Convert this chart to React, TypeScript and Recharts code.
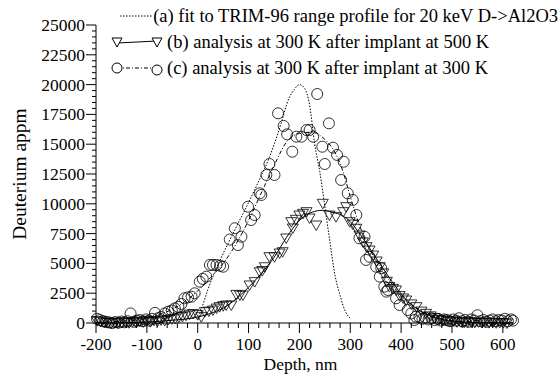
import React from 'react';
import { ComposedChart, Line, Scatter, XAxis, YAxis, Legend, Label } from 'recharts';

const FONT = '"Liberation Serif", "Times New Roman", Times, serif';

// (a) TRIM-96 range profile fit: [depth nm, appm]
const trimFit: [number, number][] = [
  [0, 300], [10, 1500], [20, 2800], [30, 3900], [40, 4900], [60, 6700], [80, 8400],
  [100, 10100], [120, 11900], [140, 13800], [160, 16200], [180, 18900], [190, 19600],
  [200, 20000], [210, 19700], [220, 18300], [230, 15000], [240, 12700], [250, 9800],
  [260, 6800], [270, 4000], [280, 2300], [290, 1000], [300, 400],
];

// (b) implant at 500 K, fit line
const fit500: [number, number][] = [
  [-200, 0], [-150, 20], [-100, 80], [-50, 230], [0, 500], [25, 800], [50, 1250],
  [75, 2000], [100, 3000], [125, 4150], [150, 5500], [175, 7200], [200, 8600],
  [225, 9300], [245, 9450], [265, 9300], [285, 9000], [300, 8500], [320, 7400],
  [350, 5500], [380, 3600], [410, 1950], [440, 950], [470, 400], [500, 150],
  [550, 40], [620, 0],
];

// (b) implant at 500 K, measured points
const points500: [number, number][] = [
  [-198, 200], [-191, 120], [-184, 60], [-177, 30], [-170, 0], [-163, 50], [-156, 0],
  [-149, 40], [-142, 90], [-135, 20], [-128, 130], [-121, 60], [-114, 160], [-107, 100],
  [-100, 200], [-93, 120], [-86, 220], [-79, 160], [-72, 260], [-65, 220], [-58, 300],
  [-51, 350], [-44, 400], [-37, 500], [-30, 550], [-23, 650], [-16, 750], [-9, 800],
  [0, 700], [7, 530], [14, 950], [22, 1000], [30, 1090], [37, 1250], [43, 1370],
  [50, 1450], [56, 1510], [66, 1510], [76, 2400], [83, 2350], [89, 2350], [102, 3190],
  [112, 3470], [122, 4300], [127, 4400], [132, 4720], [141, 5560], [151, 5560],
  [161, 5870], [167, 5980], [174, 7130], [184, 8500], [187, 7970], [193, 8700],
  [200, 9060], [207, 9200], [214, 9340], [220, 8810], [233, 8220], [246, 10040],
  [259, 9060], [272, 8920], [286, 9340], [292, 9760], [299, 8500], [305, 8300],
  [312, 7950], [318, 7380], [325, 6800], [332, 6400], [338, 6120], [345, 5700],
  [352, 5200], [358, 4720], [365, 4200], [372, 3500], [377, 3050], [384, 2900],
  [390, 2770], [397, 2300], [404, 2100], [410, 1930], [420, 1600], [430, 1370],
  [440, 1000], [449, 810], [458, 600], [466, 450], [475, 300], [482, 250], [489, 200],
  [496, 150], [503, 180], [510, 100], [517, 120], [524, 60], [531, 100], [538, 80],
  [545, 50], [552, 100], [559, 40], [566, 80], [573, 30], [580, 60], [587, 20],
  [594, 50], [601, 30], [608, 0],
];

// (c) implant at 300 K, fit line
const fit300: [number, number][] = [
  [-200, 50], [-150, 150], [-100, 400], [-75, 700], [-50, 1150], [-25, 1800], [0, 2700],
  [25, 3800], [50, 5000], [75, 6600], [100, 8600], [125, 10900], [150, 13200],
  [175, 15200], [200, 15900], [225, 16000], [250, 15400], [270, 14300], [285, 12800],
  [300, 10600], [315, 8600], [330, 6900], [350, 5300], [375, 3700], [400, 2300],
  [425, 1400], [450, 800], [475, 400], [500, 200], [550, 60], [620, 20],
];

// (c) implant at 300 K, measured points
const points300: [number, number][] = [
  [-198, 350], [-192, 250], [-186, 150], [-180, 100], [-174, 50], [-168, 0], [-162, 80],
  [-156, 30], [-150, 120], [-144, 60], [-138, 150], [-132, 800], [-126, 100], [-120, 200],
  [-114, 250], [-108, 150], [-102, 300], [-96, 200], [-90, 350], [-84, 850], [-78, 400],
  [-72, 500], [-65, 800], [-58, 950], [-51, 1050], [-45, 1230], [-38, 1350], [-32, 1600],
  [-26, 2070], [-19, 2150], [-12, 2210], [-6, 2490], [4, 3470], [10, 3700], [17, 3890],
  [24, 4870], [30, 4870], [37, 4870], [44, 4800], [50, 4720], [63, 7000], [73, 7950],
  [79, 6540], [86, 7240], [99, 9760], [105, 8640], [112, 9060], [122, 10880],
  [125, 10740], [135, 12420], [141, 13340], [151, 12420], [158, 17590], [169, 16530],
  [176, 15830], [186, 14370], [194, 15630], [204, 15630], [214, 16190], [220, 16190],
  [227, 15630], [235, 19210], [245, 14790], [250, 13340], [258, 16750], [266, 14710],
  [274, 14100], [282, 12000], [287, 13530], [295, 10880], [305, 10320], [312, 9060],
  [318, 7110], [328, 7240], [331, 5290], [338, 5560], [351, 4720], [358, 3890],
  [361, 4590], [367, 3050], [371, 2630], [374, 2770], [390, 2070], [397, 1510],
  [413, 1090], [420, 800], [426, 250], [429, 530], [436, 500], [442, 350], [448, 450],
  [454, 300], [460, 400], [466, 250], [472, 350], [478, 200], [484, 300], [490, 250],
  [496, 150], [502, 300], [508, 200], [514, 400], [520, 150], [526, 250], [532, 100],
  [538, 300], [544, 200], [550, 650], [556, 150], [562, 250], [568, 100], [574, 200],
  [580, 300], [586, 150], [592, 250], [598, 200], [604, 350], [610, 150], [616, 300],
  [620, 200],
];

const legendLabels = [
  '(a) fit to TRIM-96 range profile for 20 keV D->Al2O3',
  '(b) analysis at 300 K after implant at 500 K',
  '(c) analysis at 300 K after implant at 300 K',
];

const depthTicks = Array.from({ length: 41 }, (_, i) => -200 + i * 20);
const appmTicks = Array.from({ length: 51 }, (_, i) => i * 500);

const toXY = (pts: [number, number][]) => pts.map(([x, y]) => ({ x, y }));

const DepthTick = (props: any) => {
  const { x, y, payload } = props;
  const major = payload.value % 100 === 0;
  return (
    <g>
      <line x1={x} x2={x} y1={y} y2={y + (major ? 10 : 5)} stroke="#000" />
      {major && (
        <text x={x} y={y + 21} textAnchor="middle" dominantBaseline="central"
          fontFamily={FONT} fontSize={17} fill="#000">
          {payload.value}
        </text>
      )}
    </g>
  );
};

const AppmTick = (props: any) => {
  const { x, y, payload } = props;
  const major = payload.value % 2500 === 0;
  return (
    <g>
      <line x1={x - (major ? 10 : 4)} x2={x} y1={y} y2={y} stroke="#000" />
      {major && (
        <text x={x - 11} y={y} textAnchor="end" dominantBaseline="central"
          fontFamily={FONT} fontSize={17.5} fill="#000">
          {payload.value}
        </text>
      )}
    </g>
  );
};

const Circle = (p: any) => (
  <circle cx={p.cx} cy={p.cy} r={5.5} fill="none" stroke="#000" strokeWidth={0.8} />
);

const Triangle = (p: any) => (
  <path d={`M${p.cx - 5.5},${p.cy - 4}L${p.cx + 5.5},${p.cy - 4}L${p.cx},${p.cy + 5.5}Z`}
    fill="none" stroke="#000" strokeWidth={0.8} />
);

const renderLegend = () => (
  <div style={{ fontFamily: FONT, fontSize: 18.5, color: '#000', whiteSpace: 'nowrap' }}>
    {legendLabels.map((text, i) => (
      <div key={i} style={{ display: 'flex', alignItems: 'center', height: 26 }}>
        <svg width={57} height={26}>
          {i === 0 && <line x1={10} x2={47} y1={13} y2={13} stroke="#000" strokeDasharray="1.5 1.5" />}
          {i === 1 && (
            <>
              <line x1={7} x2={47} y1={14} y2={12} stroke="#000" />
              <path d="M2,9L12,9L7,18Z" fill="#fff" stroke="#000" />
              <path d="M42,9L52,9L47,18Z" fill="#fff" stroke="#000" />
            </>
          )}
          {i === 2 && (
            <>
              <line x1={7} x2={47} y1={13} y2={13} stroke="#000" strokeDasharray="4 2 1 2" />
              <circle cx={7} cy={13} r={5} fill="#fff" stroke="#000" />
              <circle cx={47} cy={15} r={5} fill="#fff" stroke="#000" />
            </>
          )}
        </svg>
        <span>{text}</span>
      </div>
    ))}
  </div>
);

const XTitle = (props: any) => {
  const vb = props.viewBox;
  return (
    <text x={vb.x + vb.width / 2 - 4} y={364} textAnchor="middle" dominantBaseline="central"
      fontFamily={FONT} fontSize={17.5} fill="#000">Depth, nm</text>
  );
};

const YTitle = (props: any) => {
  const vb = props.viewBox;
  const cy = vb.y + vb.height / 2;
  return (
    <text x={19} y={cy} textAnchor="middle" dominantBaseline="central"
      transform={`rotate(-90 19 ${cy})`} fontFamily={FONT} fontSize={19.5} fill="#000">
      Deuterium appm
    </text>
  );
};

const App: React.FC = () => (
  <div style={{ position: 'absolute', left: 0, top: 0, width: 558, height: 374, background: '#fff' }}>
    <ComposedChart width={558} height={374} margin={{ top: 25, right: 45, bottom: 0, left: 0 }}>
      <XAxis type="number" dataKey="x" domain={[-200, 620]} ticks={depthTicks} interval={0}
        tickSize={0} tickMargin={0} tick={<DepthTick />} height={51} stroke="#000">
        <Label content={<XTitle />} />
      </XAxis>
      <YAxis type="number" domain={[0, 25000]} ticks={appmTicks} interval={0}
        tickSize={0} tickMargin={0} tick={<AppmTick />} width={96} stroke="#000">
        <Label content={<YTitle />} />
      </YAxis>
      <Legend layout="horizontal" verticalAlign="middle" align="center" content={renderLegend}
        wrapperStyle={{ top: 3, left: 110, width: 448 }} />
      <Line data={toXY(trimFit)} dataKey="y" type="monotone" stroke="#000" strokeWidth={1}
        strokeDasharray="1.5 1.5" dot={false} activeDot={false} isAnimationActive={false} />
      <Line data={toXY(fit500)} dataKey="y" type="monotone" stroke="#000" strokeWidth={1}
        dot={false} activeDot={false} isAnimationActive={false} />
      <Line data={toXY(fit300)} dataKey="y" type="monotone" stroke="#000" strokeWidth={1}
        strokeDasharray="4 2 1 2" dot={false} activeDot={false} isAnimationActive={false} />
      <Scatter data={toXY(points500)} dataKey="y" shape={Triangle} isAnimationActive={false} />
      <Scatter data={toXY(points300)} dataKey="y" shape={Circle} isAnimationActive={false} />
    </ComposedChart>
  </div>
);

export default App;
